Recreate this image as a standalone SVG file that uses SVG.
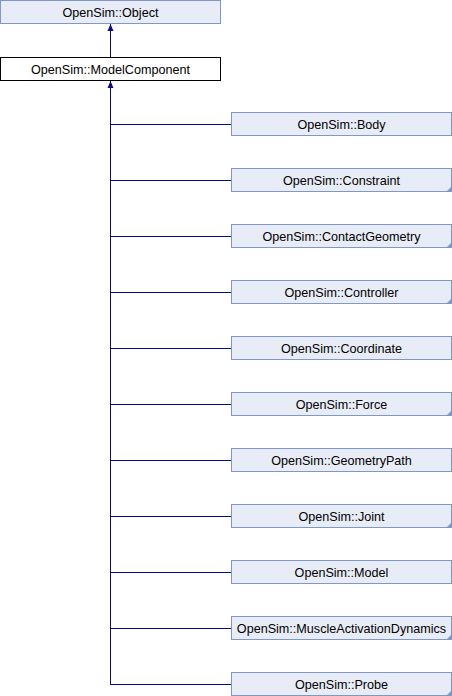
<svg xmlns="http://www.w3.org/2000/svg" width="452" height="696" viewBox="0 0 452 696">
<style>
.box{fill:#e8ecf6;stroke:#7f97c9;stroke-width:1}
.main{fill:#ffffff;stroke:#000000;stroke-width:1}
.lbl{font-family:"Liberation Sans",Arial,sans-serif;font-size:12.6px;fill:#000000;text-anchor:middle}
.edge{stroke:#0a0a8c;stroke-width:1;fill:none}
.arr{fill:#0a0a8c}
.corner{fill:#7f97c9}
</style>
<rect width="452" height="696" fill="#ffffff"/>
<g id="connectors">
<path class="edge" d="M110.5 57V23"/>
<polygon class="arr" points="110.5,24 107.5,31 113.5,31"/>
<path class="edge" d="M110.5 684.5V81"/>
<polygon class="arr" points="110.5,81 107.5,88 113.5,88"/>
<path class="edge" d="M110 124.5H231M110 180.5H231M110 236.5H231M110 292.5H231M110 348.5H231M110 404.5H231M110 460.5H231M110 516.5H231M110 572.5H231M110 628.5H231M110 684.5H231"/>
</g>
<g id="node-object"><rect class="box" x="0.5" y="0.5" width="220" height="23"/><text class="lbl" x="110.5" y="16.5">OpenSim::Object</text></g>
<g id="node-modelcomponent"><rect class="main" x="0.5" y="57.5" width="220" height="23"/><text class="lbl" x="110.5" y="73.5">OpenSim::ModelComponent</text></g>
<g id="node-body"><rect class="box" x="231.5" y="112.5" width="220" height="23"/><text class="lbl" x="341.5" y="128.5">OpenSim::Body</text></g>
<g id="node-constraint"><rect class="box" x="231.5" y="168.5" width="220" height="23"/><polygon class="corner" points="452,186 452,192 446,192"/><text class="lbl" x="341.5" y="184.5">OpenSim::Constraint</text></g>
<g id="node-contactgeometry"><rect class="box" x="231.5" y="224.5" width="220" height="23"/><polygon class="corner" points="452,242 452,248 446,248"/><text class="lbl" x="341.5" y="240.5">OpenSim::ContactGeometry</text></g>
<g id="node-controller"><rect class="box" x="231.5" y="280.5" width="220" height="23"/><polygon class="corner" points="452,298 452,304 446,304"/><text class="lbl" x="341.5" y="296.5">OpenSim::Controller</text></g>
<g id="node-coordinate"><rect class="box" x="231.5" y="336.5" width="220" height="23"/><text class="lbl" x="341.5" y="352.5">OpenSim::Coordinate</text></g>
<g id="node-force"><rect class="box" x="231.5" y="392.5" width="220" height="23"/><polygon class="corner" points="452,410 452,416 446,416"/><text class="lbl" x="341.5" y="408.5">OpenSim::Force</text></g>
<g id="node-geometrypath"><rect class="box" x="231.5" y="448.5" width="220" height="23"/><text class="lbl" x="341.5" y="464.5">OpenSim::GeometryPath</text></g>
<g id="node-joint"><rect class="box" x="231.5" y="504.5" width="220" height="23"/><polygon class="corner" points="452,522 452,528 446,528"/><text class="lbl" x="341.5" y="520.5">OpenSim::Joint</text></g>
<g id="node-model"><rect class="box" x="231.5" y="560.5" width="220" height="23"/><text class="lbl" x="341.5" y="576.5">OpenSim::Model</text></g>
<g id="node-muscleactivationdynamics"><rect class="box" x="231.5" y="616.5" width="220" height="23"/><polygon class="corner" points="452,634 452,640 446,640"/><text class="lbl" x="341.5" y="632.5">OpenSim::MuscleActivationDynamics</text></g>
<g id="node-probe"><rect class="box" x="231.5" y="672.5" width="220" height="23"/><polygon class="corner" points="452,690 452,696 446,696"/><text class="lbl" x="341.5" y="688.5">OpenSim::Probe</text></g>
</svg>
